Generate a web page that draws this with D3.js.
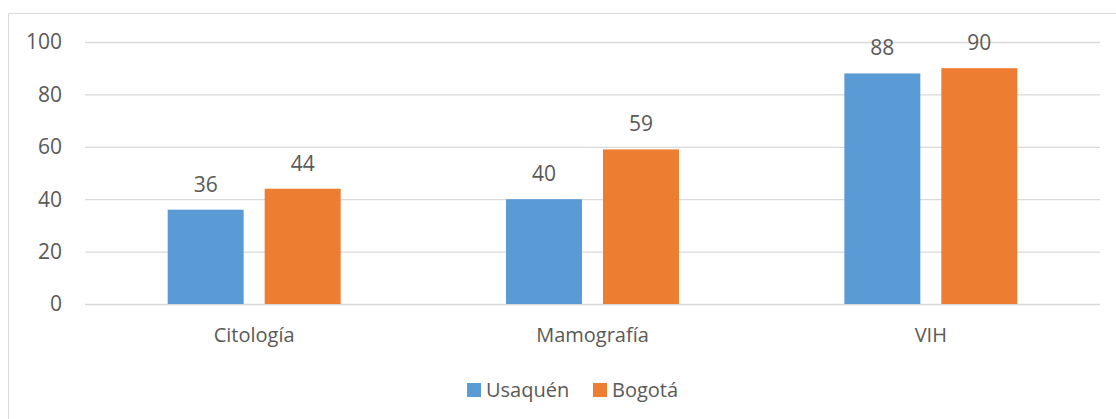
<html>
<head>
  <meta charset="utf-8">
  <script src="https://d3js.org/d3.v7.min.js"></script>
  <style>
    body { margin: 0; background: white; }
    text { font-family: "Open Sans", sans-serif; fill: #595959; }
    .gridlines line { stroke: #d9d9d9; stroke-width: 1.3px; }
    .gridlines .domain { stroke: none; }
  </style>
</head>
<body>
  <svg id="chart" width="1116" height="419"></svg>
  <script>
    const categories = ["Citología", "Mamografía", "VIH"];
    const seriesNames = ["Usaquén", "Bogotá"];
    const usaquen = [36, 40, 88];
    const bogota = [44, 59, 90];
    const yTicks = [0, 20, 40, 60, 80, 100];
    const colors = ["#5b9bd5", "#ed7d31"];

    const svg = d3.select("svg#chart");
    const margin = { top: 42, left: 85, right: 16, bottom: 115 };
    const width = 1116, height = 419;
    const chartWidth = width - margin.left - margin.right;
    const chartHeight = height - margin.top - margin.bottom;

    // outer frame (only top and left visible in the picture)
    svg.append("path")
      .attr("d", `M8.5,${height} V13.5 H${width}`)
      .attr("fill", "none")
      .attr("stroke", "#d9d9d9")
      .attr("stroke-width", 1);

    const chartArea = svg.append("g")
      .attr("transform", `translate(${margin.left},${margin.top})`);

    const yScale = d3.scaleLinear().domain([0, 100]).range([chartHeight, 0]);
    const xScale = d3.scaleBand().domain(categories).range([0, chartWidth]);
    const barWidth = 76, barGap = 21;
    const groupWidth = barWidth * 2 + barGap;

    chartArea.append("g")
      .attr("class", "gridlines")
      .call(d3.axisLeft(yScale).tickValues(yTicks).tickSize(-chartWidth).tickFormat(""));

    // y tick labels
    chartArea.selectAll("text.ytick").data(yTicks)
      .join("text").attr("class", "ytick")
      .attr("x", -23)
      .attr("y", d => yScale(d))
      .attr("dy", "0.35em")
      .attr("text-anchor", "end")
      .style("font-size", "21px")
      .text(d => d);

    const rows = categories.map((c, i) => ({ cat: c, values: [usaquen[i], bogota[i]] }));

    rows.forEach(r => {
      const start = xScale(r.cat) + (xScale.bandwidth() - groupWidth) / 2;
      r.values.forEach((v, j) => {
        const x = start + j * (barWidth + barGap);
        chartArea.append("rect")
          .attr("x", x)
          .attr("width", barWidth)
          .attr("y", yScale(v))
          .attr("height", chartHeight - yScale(v))
          .attr("fill", colors[j]);
        chartArea.append("text")
          .attr("x", x + barWidth / 2)
          .attr("y", yScale(v) - 18)
          .attr("text-anchor", "middle")
          .style("font-size", "21px")
          .text(v);
      });
      chartArea.append("text")
        .attr("x", xScale(r.cat) + xScale.bandwidth() / 2)
        .attr("y", chartHeight + 38)
        .attr("text-anchor", "middle")
        .style("font-size", "20px")
        .text(r.cat);
    });

    // legend
    const legend = svg.append("g").attr("transform", "translate(467,383)");
    const legendX = [0, 126];
    seriesNames.forEach((s, j) => {
      legend.append("rect")
        .attr("x", legendX[j]).attr("y", 0)
        .attr("width", 14).attr("height", 14)
        .attr("fill", colors[j]);
      legend.append("text")
        .attr("x", legendX[j] + 19).attr("y", 7)
        .attr("dy", "0.35em")
        .style("font-size", "20px")
        .text(s);
    });
  </script>
</body>
</html>
